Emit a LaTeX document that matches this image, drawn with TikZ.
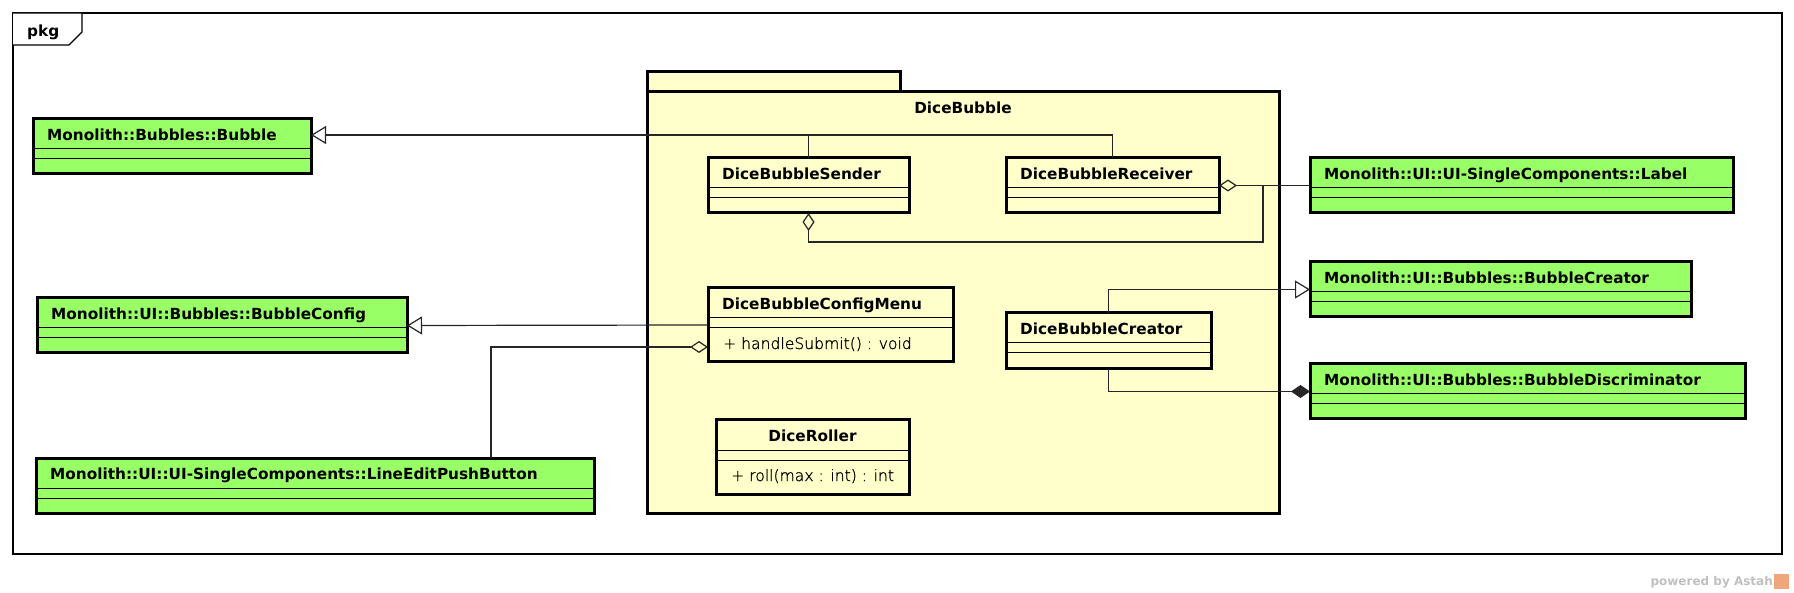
\documentclass[tikz,border=0pt]{standalone}
\usepackage{fontspec}
\setmainfont{DejaVu Sans}
\IfFontExistsTF{DejaVu Sans ExtraLight}
  {\newfontfamily\opfont{DejaVu Sans ExtraLight}[FakeBold=1]}
  {\newfontfamily\opfont{DejaVu Sans}}
\usetikzlibrary{arrows.meta,positioning,calc}
\definecolor{extgreen}{RGB}{153,255,102}
\definecolor{pkgyellow}{RGB}{255,255,204}
\definecolor{astahorange}{RGB}{240,165,125}
\tikzset{
  klass/.style={draw,line width=3pt,anchor=north west,inner sep=0pt,outer sep=0pt},
  ext/.style={fill=extgreen},
  own/.style={fill=pkgyellow},
  cmp/.style={line width=1pt},
  ttl/.style={font=\fontsize{15.3}{18}\selectfont\bfseries,inner sep=0pt},
  opr/.style={font=\opfont\fontsize{15.6}{19}\selectfont,inner sep=0pt},
  conn/.style={line width=1.2pt,black!85},
  gen/.style={conn,-{Triangle[open,length=15pt,width=18pt]}},
  agg/.style={conn,{Diamond[open,length=18pt,width=12pt]}-},
  comp/.style={conn,-{Diamond[length=19pt,width=13pt]}},
  frame/.style={line width=1.3pt},
  wm/.style={font=\fontsize{12}{14}\selectfont\bfseries,text=black!25,inner sep=0pt},
}
% box + two compartment lines + name
\newcommand{\umlclass}[6]{%
  \node[klass,#5,minimum width=#3pt,minimum height=#4pt] (#1) at (#2) {};
  \draw[cmp] ([yshift=-30pt]#1.north west) -- ([yshift=-30pt]#1.north east);
  \draw[cmp] ([yshift=-40pt]#1.north west) -- ([yshift=-40pt]#1.north east);
  \node[ttl,anchor=base west] (#1-name) at ([xshift=14pt,yshift=-21.5pt]#1.north west) {#6};}

\begin{document}
\begin{tikzpicture}[x=1pt,y=-1pt]
  \useasboundingbox (0,0) rectangle (1794,593);
  % diagram frame
  \draw[frame] (13,13) rectangle (1782,554);
  \draw[frame,fill=white] (13,13) -- (82,13) -- (82,32) -- (69,45) -- (13,45);
  \node[ttl,anchor=base west] (pkg) at (27,36.5) {pkg};

  % package DiceBubble
  \node[klass,own,minimum width=253pt,minimum height=20pt] (pkgtab) at (647,72) {};
  \node[klass,own,minimum width=632pt,minimum height=421pt] (dicebubble) at (647,92) {};
  \node[ttl,anchor=base] (pkgname) at ([yshift=-22pt]dicebubble.north) {DiceBubble};

  \umlclass{sender}{708,158}{201}{55}{own}{DiceBubbleSender}
  \umlclass{receiver}{1006,158}{213}{55}{own}{DiceBubbleReceiver}
  \umlclass{configmenu}{708,288}{245}{74}{own}{DiceBubbleConfigMenu}
  \node[opr,anchor=base west] (submit) at ([xshift=15pt,yshift=-61pt]configmenu.north west) {+ handleSubmit() : void};
  \umlclass{creator}{1006,313}{205}{56}{own}{DiceBubbleCreator}
  \umlclass{roller}{716,420}{193}{74}{own}{}
  \node[ttl,anchor=base] (roller-title) at ([yshift=-22pt]roller.north) {DiceRoller};
  \node[opr,anchor=base west] (roll) at ([xshift=15pt,yshift=-61pt]roller.north west) {+ roll(max : int) : int};

  % external classes
  \umlclass{bubble}{33,119}{278}{55}{ext}{Monolith::Bubbles::Bubble}
  \umlclass{bubbleconfig}{37,298}{370}{55}{ext}{Monolith::UI::Bubbles::BubbleConfig}
  \umlclass{lineedit}{36,458}{558}{55}{ext}{Monolith::UI::UI-SingleComponents::LineEditPushButton}
  \umlclass{label}{1310,158}{423}{55}{ext}{Monolith::UI::UI-SingleComponents::Label}
  \umlclass{bubblecreator}{1310,262}{381}{55}{ext}{Monolith::UI::Bubbles::BubbleCreator}
  \umlclass{discriminator}{1310,364}{435}{55}{ext}{Monolith::UI::Bubbles::BubbleDiscriminator}

  % relations
  \draw[gen] (receiver.north) |- ([yshift=11.5pt]bubble.east);
  \draw[conn] (sender.north) -- ++(0,-23);
  \draw[agg] (receiver.east) -- (label.west);
  \coordinate (lbljoin) at (1263,185.5);
  \draw[agg] (sender.south) -- ++(0,29) -| (lbljoin);
  \draw[gen] (configmenu.west) -- (bubbleconfig.east);
  \draw[agg] ([yshift=-22pt]configmenu.west) -| ([xshift=176pt]lineedit.north);
  \draw[gen] (creator.north) |- (bubblecreator.west);
  \draw[comp] (creator.south) |- (discriminator.west);

  % watermark
  \node[wm,anchor=base east] (powered) at (1773,585) {powered by Astah};
  \node[fill=astahorange,minimum width=15pt,minimum height=15pt,inner sep=0pt,right=1pt of powered] (astahlogo) {};
\end{tikzpicture}
\end{document}
